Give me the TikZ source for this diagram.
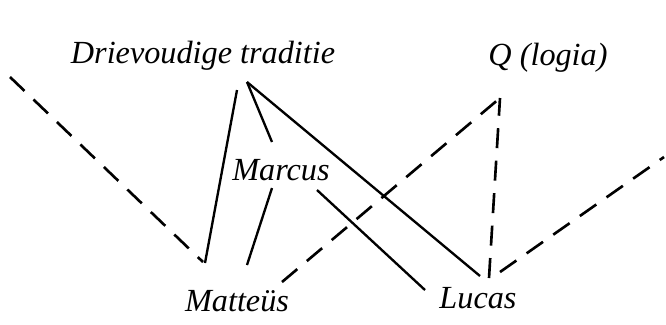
\documentclass[tikz,border=0pt]{standalone}
\usepackage{fontspec}
\setmainfont{Liberation Serif}
\usetikzlibrary{calc,positioning}
\tikzset{
  gospel/.style={font=\fontsize{11}{13}\selectfont\itshape, inner sep=0pt, anchor=base},
  solidlink/.style={line width=0.8pt},
  qlink/.style={line width=0.9pt, dash pattern=on 2.4mm off 1.5mm},
}

\begin{document}
\begin{tikzpicture}[x=0.012cm, y=-0.012cm]
  \useasboundingbox (0,0) rectangle (666,324);

  \node[gospel] (drie) at (203,63) {Drievoudige traditie};
  \node[gospel] (q) at (548,65) {Q (logia)};
  \node[gospel] (marcus) at (281,180) {Marcus};
  \node[gospel] (matteus) at (237,311) {Matteüs};
  \node[gospel] (lucas) at (478,308) {Lucas};

  \coordinate (leftend) at (10,77);
  \coordinate (rightend) at (664,157);

  % triple tradition
  \draw[solidlink] ($(drie.base)+(34,27)$) -- ($(matteus.base)+(-32,-48)$);
  \draw[solidlink] ($(drie.base)+(44,19)$) -- ($(marcus.base)+(-9,-38)$);
  \draw[solidlink] ($(drie.base)+(44,19)$) -- ($(lucas.base)+(2,-32)$);
  \draw[solidlink] ($(marcus.base)+(-9,8)$) -- ($(matteus.base)+(10,-46)$);
  \draw[solidlink] ($(marcus.base)+(36,10)$) -- ($(lucas.base)+(-53,-18)$);

  % Q and special material
  \draw[qlink] ($(matteus.base)+(45,-29)$) -- ($(q.base)+(-48,33)$);
  \draw[qlink] ($(lucas.base)+(11,-30)$) -- ($(q.base)+(-48,33)$);
  \draw[qlink] (leftend) -- ($(matteus.base)+(-34,-49)$);
  \draw[qlink] ($(lucas.base)+(22,-36)$) -- (rightend);
\end{tikzpicture}
\end{document}
